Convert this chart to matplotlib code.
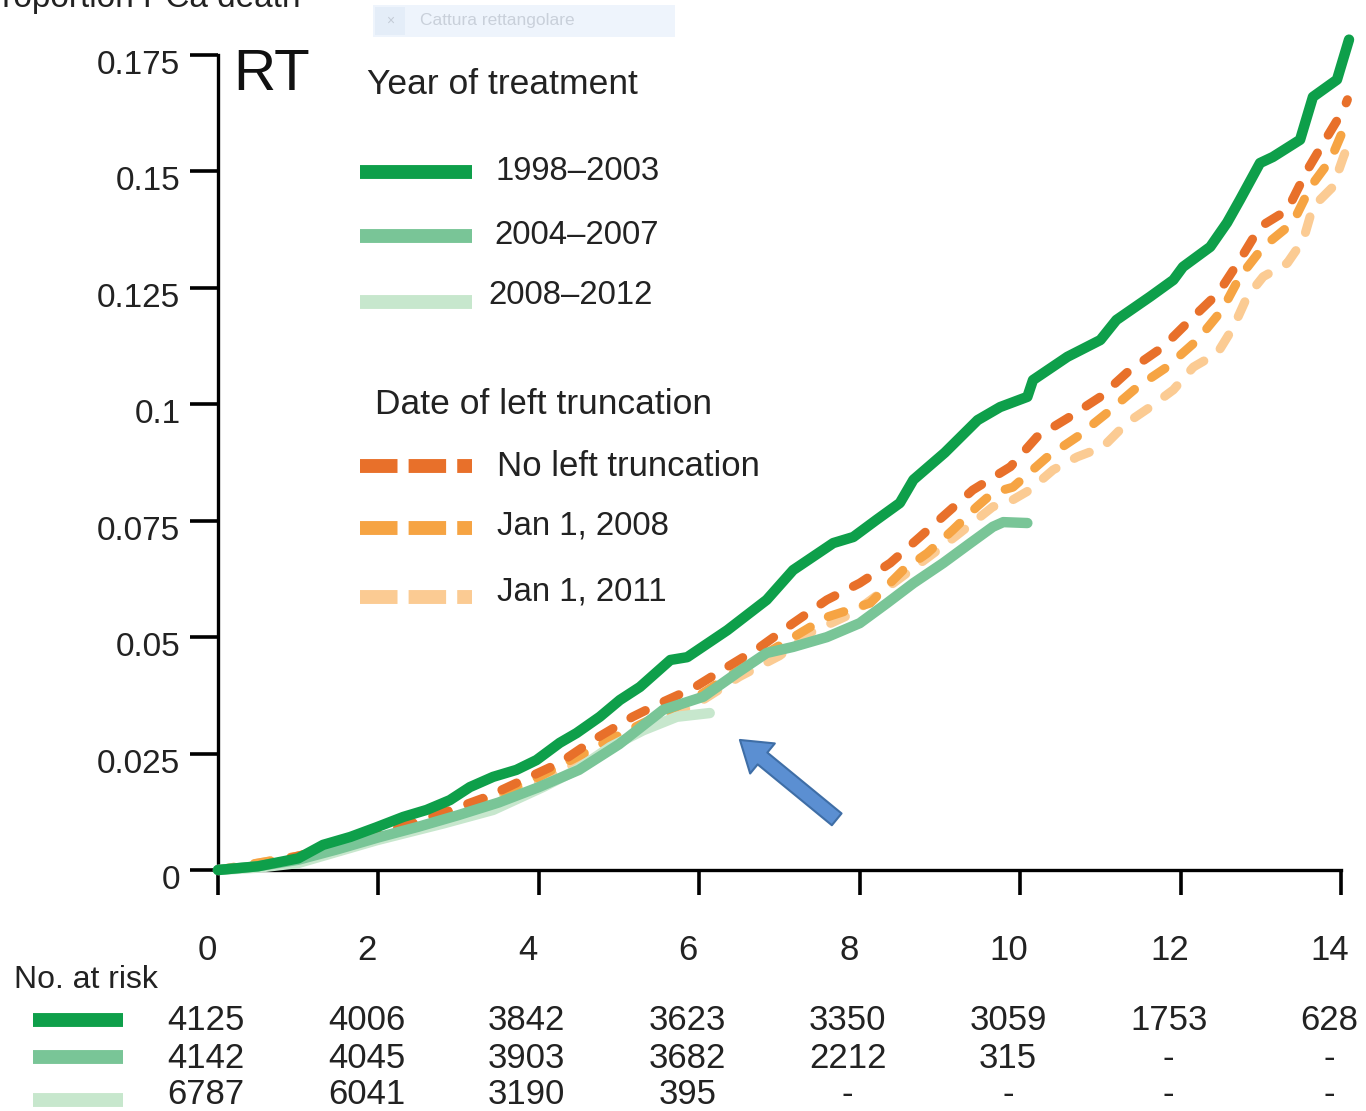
import matplotlib
matplotlib.use("Agg")
import matplotlib.pyplot as plt
from matplotlib.lines import Line2D
from matplotlib.patches import Rectangle, FancyArrowPatch
from matplotlib.transforms import blended_transform_factory, ScaledTranslation

plt.rcParams["font.family"] = ["Liberation Sans", "DejaVu Sans"]

W, H = 1366, 1111

# cumulative incidence curves (years, proportion)
t_9803 = [0, 0.5, 1.0, 1.31, 1.65, 1.98, 2.31, 2.6, 2.89, 3.14, 3.43, 3.72, 3.97, 4.26, 4.47,
          4.76, 5.01, 5.26, 5.64, 5.85, 6.35, 6.84, 7.17, 7.67, 7.92, 8.21, 8.5, 8.67, 9.06,
          9.47, 9.75, 10.09, 10.16, 10.59, 11.0, 11.2, 11.62, 11.91, 12.03, 12.37, 12.58,
          12.74, 12.99, 13.15, 13.49, 13.65, 13.95, 14.1]
cif_9803 = [0, 0.0008, 0.0025, 0.0054, 0.0071, 0.0092, 0.0114, 0.0129, 0.015, 0.0178, 0.020,
            0.0215, 0.0236, 0.0273, 0.0294, 0.0329, 0.0365, 0.0393, 0.0451, 0.0457, 0.0515,
            0.058, 0.0644, 0.0702, 0.0715, 0.0752, 0.0788, 0.0838, 0.0896, 0.0966, 0.0994,
            0.1016, 0.1052, 0.1102, 0.1138, 0.1181, 0.1231, 0.1267, 0.1295, 0.1338, 0.139,
            0.1439, 0.1518, 0.1531, 0.1568, 0.166, 0.1697, 0.1783]

t_0407 = [0, 0.5, 1, 1.5, 2, 2.5, 3, 3.5, 4, 4.5, 5, 5.55, 6.05, 6.47, 6.84, 7.17, 7.59, 8.0,
          8.34, 8.67, 9.04, 9.38, 9.66, 9.79, 10.09]
cif_0407 = [0, 0.0008, 0.0022, 0.0045, 0.007, 0.0093, 0.0118, 0.0145, 0.0178, 0.0215, 0.027,
            0.0344, 0.0372, 0.0423, 0.0466, 0.0479, 0.050, 0.053, 0.0573, 0.0616, 0.0659,
            0.0702, 0.0737, 0.0747, 0.0745]

t_0812 = [0, 0.5, 1.0, 1.3, 1.98, 2.81, 3.43, 4.05, 4.47, 4.89, 5.3, 5.72, 6.13]
cif_0812 = [0, 0.0005, 0.0015, 0.003, 0.0064, 0.010, 0.0129, 0.0178, 0.0215, 0.0264, 0.030,
            0.0329, 0.0337]

t_notrunc = [0, 0.5, 1.0, 1.5, 2.0, 2.5, 3.0, 3.35, 4.26, 4.68, 5.17, 5.51, 5.92, 6.35, 6.76,
             7.17, 7.59, 8.0, 8.38, 8.75, 9.09, 9.41, 9.88, 10.21, 10.59, 11.0, 11.37, 11.78,
             12.12, 12.47, 12.74, 12.99, 13.33, 13.58, 13.78, 14.03, 14.08]
cif_notrunc = [0, 0.0008, 0.003, 0.005, 0.0078, 0.0105, 0.0135, 0.0157, 0.023, 0.0279, 0.0329,
               0.0358, 0.039, 0.0436, 0.0479, 0.053, 0.058, 0.0616, 0.0659, 0.0715, 0.0767,
               0.0816, 0.0866, 0.093, 0.097, 0.1016, 0.1074, 0.1123, 0.1181, 0.1239, 0.131,
               0.1381, 0.1417, 0.1503, 0.1561, 0.1632, 0.1654]

t_2008 = [0, 1, 2, 3, 4, 5, 6, 6.5, 6.97, 7.59, 8.13, 8.54, 8.84, 9.16, 9.46, 9.66, 9.91,
          10.34, 10.71, 11.08, 11.46, 11.83, 12.21, 12.52, 12.74, 13.03, 13.4, 13.62, 13.87,
          14.08]
cif_2008 = [0, 0.003, 0.0075, 0.013, 0.020, 0.029, 0.0375, 0.043, 0.0479, 0.0543, 0.0573,
            0.0644, 0.068, 0.073, 0.078, 0.081, 0.0822, 0.0887, 0.093, 0.0981, 0.1037, 0.108,
            0.1138, 0.1203, 0.1274, 0.1338, 0.139, 0.1467, 0.1525, 0.161]

t_2011 = [0, 1, 2, 3, 4, 5, 6, 6.5, 7.0, 7.38, 7.92, 8.42, 8.92, 9.25, 9.66, 9.84, 10.12,
          10.41, 10.71, 11.03, 11.33, 11.62, 11.91, 12.16, 12.46, 12.66, 12.83, 13.03, 13.33,
          13.53, 13.65, 13.9, 14.03, 14.08]
cif_2011 = [0, 0.003, 0.0072, 0.0125, 0.019, 0.0275, 0.036, 0.0415, 0.046, 0.0509, 0.0552,
            0.0616, 0.068, 0.0724, 0.078, 0.0788, 0.0816, 0.0859, 0.0887, 0.0908, 0.096,
            0.0994, 0.1031, 0.108, 0.111, 0.1166, 0.1231, 0.1274, 0.1303, 0.1353, 0.1424,
            0.1467, 0.1531, 0.1553]

x_ticks = [0, 2, 4, 6, 8, 10, 12, 14]
y_ticks = [0, 0.025, 0.05, 0.075, 0.1, 0.125, 0.15, 0.175]
y_tick_labels = ["0", "0.025", "0.05", "0.075", "0.1", "0.125", "0.15", "0.175"]

year_labels = ["1998\u20132003", "2004\u20132007", "2008\u20132012"]
trunc_labels = ["No left truncation", "Jan 1, 2008", "Jan 1, 2011"]

risk_9803 = ["4125", "4006", "3842", "3623", "3350", "3059", "1753", "628"]
risk_0407 = ["4142", "4045", "3903", "3682", "2212", "315", "-", "-"]
risk_0812 = ["6787", "6041", "3190", "395", "-", "-", "-", "-"]

GREENS = ["#0E9F4A", "#79C597", "#C7E7CD"]
ORANGES = ["#E8702A", "#F6A443", "#FBCB93"]
TXT = "#222222"


def fx(x):
    return x / W


def fy(y):
    return 1 - y / H


fig = plt.figure(figsize=(W / 100, H / 100), dpi=100)
ax = fig.add_axes([fx(218), fy(870), fx(1341) - fx(218), fy(55) - fy(870)])

# curves: oranges first, greens on top
dash_kw = dict(lw=6.5, dash_capstyle="round", solid_capstyle="round", clip_on=False)
ax.plot(t_2011, cif_2011, color=ORANGES[2], dashes=(1.8, 2.3), zorder=2, **dash_kw)
ax.plot(t_2008, cif_2008, color=ORANGES[1], dashes=(1.8, 2.3), zorder=3, **dash_kw)
ax.plot(t_notrunc, cif_notrunc, color=ORANGES[0], dashes=(1.8, 2.3), zorder=4, **dash_kw)

solid_kw = dict(lw=7.5, solid_capstyle="round", solid_joinstyle="round", clip_on=False)
ax.plot(t_0812, cif_0812, color=GREENS[2], zorder=5, **solid_kw)
ax.plot(t_0407, cif_0407, color=GREENS[1], zorder=6, **solid_kw)
ax.plot(t_9803, cif_9803, color=GREENS[0], zorder=7, **solid_kw)

ax.set_xlim(0, 14)
ax.set_ylim(0, 0.175)
for s in ["top", "right"]:
    ax.spines[s].set_visible(False)
for s in ["left", "bottom"]:
    ax.spines[s].set_linewidth(2.4)
ax.set_xticks(x_ticks)
ax.set_xticklabels([str(v) for v in x_ticks])
ax.set_yticks(y_ticks)
ax.set_yticklabels(y_tick_labels)
ax.tick_params(axis="x", length=18, width=2.6, pad=28, labelsize=25, colors="black")
ax.tick_params(axis="y", length=20, width=2.6, pad=7, labelsize=24, colors="black")
for lab in ax.get_xticklabels():
    lab.set_color(TXT)
    lab.set_transform(lab.get_transform() + ScaledTranslation(-11 / 100, 0, fig.dpi_scale_trans))
for lab in ax.get_yticklabels():
    lab.set_color(TXT)
    lab.set_transform(lab.get_transform() + ScaledTranslation(0, -7 / 100, fig.dpi_scale_trans))

# panel label, cropped axis title, screenshot artefact
fig.text(fx(233), fy(75), "RT", fontsize=42, va="center", ha="left", color="#111111")
fig.text(fx(-20), fy(-2), "Proportion PCa death", fontsize=24, va="center", ha="left",
         color=TXT)
fig.add_artist(Rectangle((fx(373), fy(37)), fx(675) - fx(373), fy(5) - fy(37),
                         transform=fig.transFigure, fc="#EEF4FC", ec="none"))
fig.add_artist(Rectangle((fx(375), fy(35)), fx(405) - fx(375), fy(7) - fy(35),
                         transform=fig.transFigure, fc="#E4EDF8", ec="none"))
fig.text(fx(390), fy(21), "\u00d7", fontsize=10, va="center", ha="center", color="#C3CBD6")
fig.text(fx(420), fy(21), "Cattura rettangolare", fontsize=12.5, va="center", ha="left",
         color="#C9D0DA")

# legend
fig.text(fx(367), fy(85), "Year of treatment", fontsize=25.5, va="center", ha="left", color=TXT)
for i, (lab, y_line, y_txt, x_txt) in enumerate(zip(year_labels, [172, 236, 302],
                                                    [172, 236, 296], [495, 494, 488])):
    fig.add_artist(Line2D([fx(360), fx(472)], [fy(y_line), fy(y_line)], lw=10,
                          color=GREENS[i], solid_capstyle="butt", transform=fig.transFigure))
    fig.text(fx(x_txt), fy(y_txt), lab, fontsize=23.7, va="center", ha="left", color=TXT)

fig.text(fx(375), fy(405), "Date of left truncation", fontsize=25.5, va="center", ha="left",
         color=TXT)
for i, (lab, y_line, y_txt) in enumerate(zip(trunc_labels, [466, 528, 597], [466, 526, 592])):
    fig.add_artist(Line2D([fx(360), fx(472)], [fy(y_line), fy(y_line)], lw=10,
                          color=ORANGES[i], dashes=(2.7, 0.8), dash_capstyle="butt",
                          transform=fig.transFigure))
    fig.text(fx(497), fy(y_txt), lab, fontsize=25 if i == 0 else 23.8, va="center", ha="left",
             color=TXT)

# arrow pointing at the end of the 2008-2012 curve
arrow = FancyArrowPatch(posA=(7.74, 0.0105), posB=(6.48, 0.0283),
                        arrowstyle="simple,head_length=21,head_width=28,tail_width=11",
                        mutation_scale=1, fc="#5B8FD2", ec="#3F6EA6", lw=1.5,
                        transform=ax.transData, clip_on=False, zorder=8)
ax.add_patch(arrow)

# numbers at risk
fig.text(fx(14), fy(980), "No. at risk", fontsize=23, va="center", ha="left", color=TXT)
row_tr = blended_transform_factory(ax.transData, fig.transFigure) + \
    ScaledTranslation(-12 / 100, 0, fig.dpi_scale_trans)
for i, (row, y_row, y_sw) in enumerate(zip([risk_9803, risk_0407, risk_0812],
                                           [1021, 1058, 1094], [1020, 1057, 1100])):
    fig.add_artist(Line2D([fx(33), fx(123)], [fy(y_sw), fy(y_sw)], lw=10, color=GREENS[i],
                          solid_capstyle="butt", transform=fig.transFigure))
    for t, val in zip(x_ticks, row):
        fig.text(t, fy(y_row), val, fontsize=25, va="center", ha="center", color=TXT,
                 transform=row_tr)

fig.savefig("out.png", dpi=100)
